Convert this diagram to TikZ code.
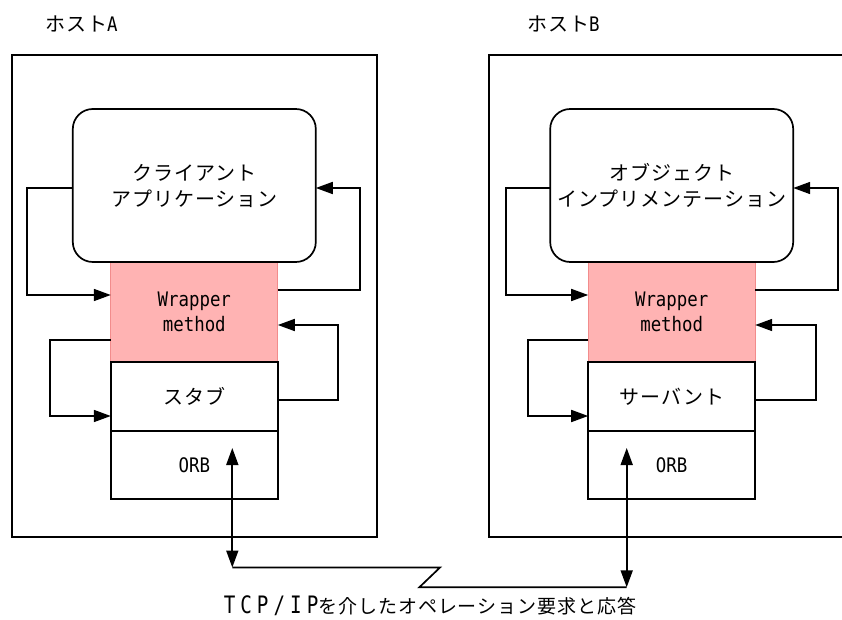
\documentclass[tikz,border=0pt]{standalone}
\usepackage{fontspec}
\usetikzlibrary{arrows.meta}
\newfontfamily\jpfont[LetterSpace=5]{Noto Sans CJK JP}
\newfontfamily\latfont[FakeStretch=0.87]{DejaVu Sans Mono}
\newfontfamily\latwide[FakeStretch=0.8,LetterSpace=21]{DejaVu Sans Mono}
\definecolor{wrapfill}{HTML}{FFB3B3}
\definecolor{wrapline}{HTML}{F28C8C}
\tikzset{
  ln/.style={line width=1.7pt},
  tip/.tip={Triangle[length=17pt,width=12pt]},
  arr/.style={ln, -tip},
  darr/.style={ln, tip-tip},
  jptext/.style={font=\jpfont\fontsize{20}{26}\selectfont},
  lattext/.style={font=\latfont\fontsize{20}{25}\selectfont},
  hostbox/.style={draw, ln, inner sep=0pt, outer sep=0pt},
  appbox/.style={draw, ln, rounded corners=20pt, minimum width=243pt,
    minimum height=153pt, align=center, inner sep=0pt, outer sep=0pt, jptext},
  wrapbox/.style={draw=wrapline, fill=wrapfill, line width=1.2pt,
    minimum width=167pt, minimum height=100pt, align=center,
    inner sep=0pt, outer sep=0pt, lattext},
  layerbox/.style={draw, ln, minimum width=167pt, minimum height=68.5pt,
    inner sep=0pt, outer sep=0pt},
  label/.style={inner sep=0pt, jptext},
}
\begin{document}
\begin{tikzpicture}[x=1pt,y=-1pt]
\useasboundingbox (0,0) rectangle (842,620);
\clip (0,0) rectangle (842,620);

% hosts
\node[hostbox, minimum width=364.7pt, minimum height=482.3pt] (hostA) at (194.35,296.15) {};
\node[hostbox, minimum width=360.7pt, minimum height=482.3pt] (hostB) at (669.65,296.15) {};
\node[label, anchor=west] (labA) at (45,24) {ホスト{\latfont A}};
\node[label, anchor=west] (labB) at (527,24) {ホスト{\latfont B}};

% host A stack
\node[wrapbox] (wrA) at (194.3,312) {Wrapper\\method};
\node[appbox] (appA) at (194.3,185.5) {クライアント\\アプリケーション};
\node[layerbox, jptext] (stA) at (194.3,396.5) {スタブ};
\node[layerbox, lattext] (orbA) at (194.3,465) {ORB};

% host B stack
\node[wrapbox] (wrB) at (671.7,312) {Wrapper\\method};
\node[appbox] (appB) at (671.7,185.5) {オブジェクト\\インプリメンテーション};
\node[layerbox, jptext] (svB) at (671.7,396.5) {サーバント};
\node[layerbox, lattext] (orbB) at (671.7,465) {ORB};

% call flow in host A
\draw[arr] (appA.west |- 0,188) -- (27,188) |- (wrA.west |- 0,295);
\draw[arr] (wrA.east |- 0,290) -- (360,290) |- (appA.east |- 0,188);
\draw[arr] (wrA.west |- 0,340) -- (50,340) |- (stA.west |- 0,416);
\draw[arr] (stA.east |- 0,400) -- (338,400) |- (wrA.east |- 0,325);

% call flow in host B
\draw[arr] (appB.west |- 0,188) -- (506,188) |- (wrB.west |- 0,295);
\draw[arr] (wrB.east |- 0,290) -- (838.3,290) |- (appB.east |- 0,188);
\draw[arr] (wrB.west |- 0,340) -- (527.7,340) |- (svB.west |- 0,416);
\draw[arr] (svB.east |- 0,400) -- (815.7,400) |- (wrB.east |- 0,325);

% network link between the two ORBs
\coordinate (tipA) at (232.3,448);
\coordinate (netA) at (232.3,567.5);
\coordinate (tipB) at (626.7,448);
\coordinate (netB) at (626.7,587.3);
\draw[darr] (tipA) -- (netA);
\draw[darr] (tipB) -- (netB);
\draw[ln, line join=miter] (netA) -- (440,567.5) -- (419.3,587.3) -- (netB);

\node[inner sep=0pt] (cap) at (430,606)
  {{\latwide\fontsize{24}{24}\selectfont TCP/IP}{\jpfont\fontsize{19}{22}\selectfont を介したオペレーション要求と応答}};
\end{tikzpicture}
\end{document}
